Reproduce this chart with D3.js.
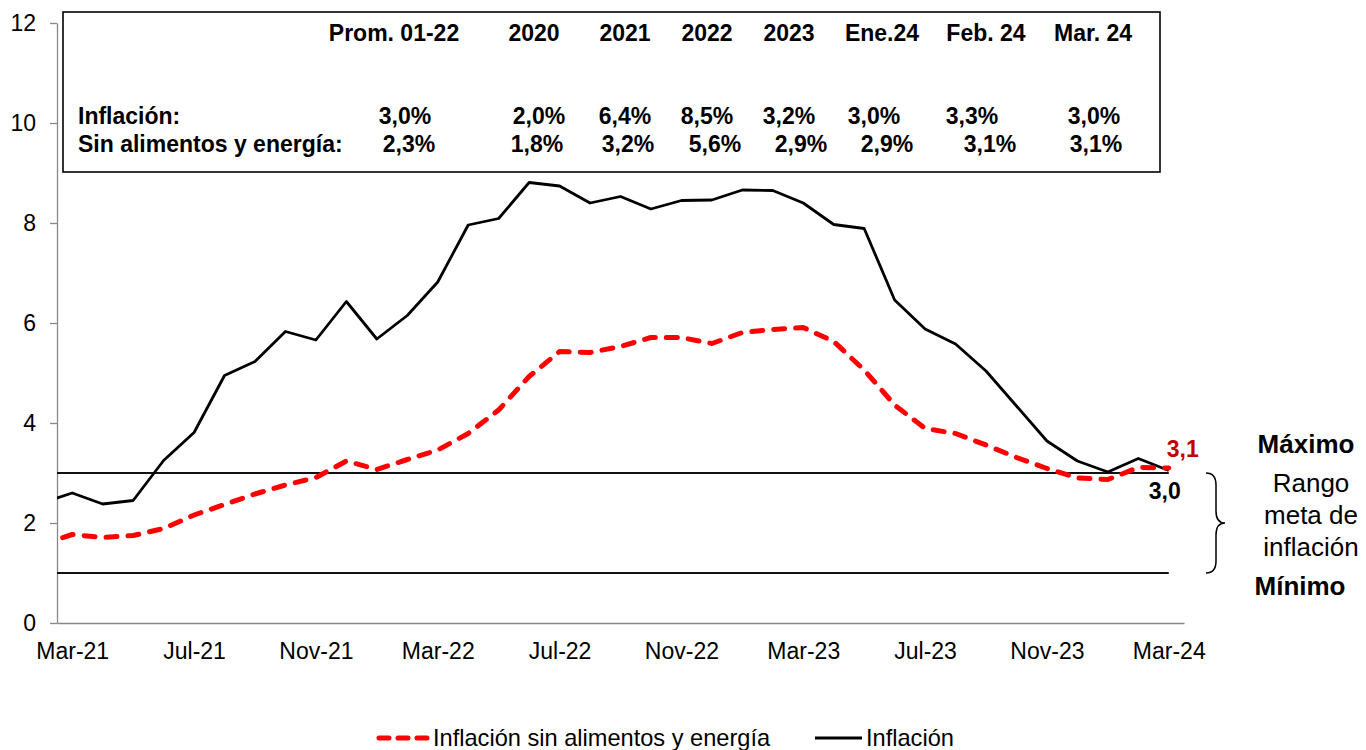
<!DOCTYPE html>
<html>
<head>
<meta charset="utf-8">
<script src="https://cdn.jsdelivr.net/npm/d3@7"></script>
<style>
  body { margin: 0; background: #fff; }
  svg { font-family: "Liberation Sans", Arial, sans-serif; }
</style>
</head>
<body>
<svg id="chart" width="1366" height="750"></svg>
<script>
// months Feb-21 .. Mar-24 (Feb-21 only feeds the clipped segment at the left edge)
const months = ["Feb-21","Mar-21","Apr-21","May-21","Jun-21","Jul-21","Aug-21","Sep-21","Oct-21","Nov-21","Dec-21",
  "Jan-22","Feb-22","Mar-22","Apr-22","May-22","Jun-22","Jul-22","Aug-22","Sep-22","Oct-22","Nov-22","Dec-22",
  "Jan-23","Feb-23","Mar-23","Apr-23","May-23","Jun-23","Jul-23","Aug-23","Sep-23","Oct-23","Nov-23","Dec-23",
  "Jan-24","Feb-24","Mar-24"];

const inflacion = [2.40,2.60,2.38,2.45,3.25,3.81,4.95,5.23,5.83,5.66,6.43,
  5.68,6.15,6.82,7.96,8.09,8.81,8.74,8.40,8.53,8.28,8.45,8.46,
  8.66,8.65,8.40,7.97,7.89,6.46,5.88,5.58,5.04,4.34,3.64,3.24,
  3.02,3.29,3.05];

const sinAlimentos = [1.57,1.77,1.71,1.75,1.89,2.16,2.37,2.58,2.76,2.91,3.24,
  3.07,3.27,3.46,3.79,4.26,4.93,5.43,5.41,5.53,5.71,5.71,5.59,
  5.81,5.87,5.91,5.63,5.06,4.36,3.89,3.79,3.56,3.31,3.09,2.90,
  2.87,3.11,3.10];

const metaMax = 3;
const metaMin = 1;

const xTickLabels = ["Mar-21","Jul-21","Nov-21","Mar-22","Jul-22","Nov-22","Mar-23","Jul-23","Nov-23","Mar-24"];
const yTicks = [0, 2, 4, 6, 8, 10, 12];

// summary table
const tableHeaders = ["Prom. 01-22","2020","2021","2022","2023","Ene.24","Feb. 24","Mar. 24"];
const tableInflacion = ["3,0%","2,0%","6,4%","8,5%","3,2%","3,0%","3,3%","3,0%"];
const tableSinAlimentos = ["2,3%","1,8%","3,2%","5,6%","2,9%","2,9%","3,1%","3,1%"];

// text placement inside the box
const headerX = [394, 534, 625, 707, 789, 882, 986, 1093];
const row1X = [405, 539, 625, 707, 789, 874, 972, 1094];
const row2X = [409, 537, 628, 715, 801, 887, 990, 1096];

const svg = d3.select("#chart");
const plotLeft = 57, plotRight = 1184, plotTop = 23, plotBottom = 623;

const x = d3.scaleLinear().domain([0.5, months.length - 0.5]).range([plotLeft, plotRight]);
const y = d3.scaleLinear().domain([0, 12]).range([plotBottom, plotTop]);

svg.append("defs").append("clipPath").attr("id", "plot")
  .append("rect").attr("x", plotLeft).attr("y", 0).attr("width", plotRight - plotLeft).attr("height", plotBottom);

// y axis
const yAxis = svg.append("g")
  .attr("transform", "translate(" + plotLeft + ",0)")
  .call(d3.axisLeft(y).tickValues(yTicks).tickSize(7).tickPadding(14).tickSizeOuter(0));
yAxis.select(".domain").attr("stroke", "#888").attr("stroke-width", 1.3);
yAxis.selectAll(".tick line").attr("stroke", "#888").attr("stroke-width", 1.3);
yAxis.attr("font-size", null).attr("font-family", null);
yAxis.selectAll("text").attr("font-size", 23).attr("fill", "#000");

// x axis
const tickIdx = xTickLabels.map(m => months.indexOf(m));
const xAxis = svg.append("g")
  .attr("transform", "translate(0," + plotBottom + ")")
  .call(d3.axisBottom(x).tickValues(tickIdx).tickFormat(i => months[i]).tickSize(0).tickPadding(20).tickSizeOuter(0));
xAxis.select(".domain").attr("stroke", "#888").attr("stroke-width", 1.3);
xAxis.attr("font-size", null).attr("font-family", null);
xAxis.selectAll("text").attr("font-size", 23).attr("fill", "#000");

const plot = svg.append("g").attr("clip-path", "url(#plot)");

// target range lines
[metaMax, metaMin].forEach(v => {
  plot.append("line")
    .attr("x1", x(0)).attr("x2", x(months.length - 1))
    .attr("y1", y(v)).attr("y2", y(v))
    .attr("stroke", "#111").attr("stroke-width", 2);
});

const line = d3.line().x((d, i) => x(i)).y(d => y(d));

plot.append("path").datum(inflacion)
  .attr("d", line).attr("fill", "none")
  .attr("stroke", "#000").attr("stroke-width", 2.8).attr("stroke-linejoin", "round");

plot.append("path").datum(sinAlimentos)
  .attr("d", line).attr("fill", "none")
  .attr("stroke", "#ff0000").attr("stroke-width", 5)
  .attr("stroke-dasharray", "11,11").attr("stroke-linecap", "round").attr("stroke-linejoin", "round");

// end labels
const last = months.length - 1;
svg.append("text")
  .attr("x", x(last) - 2).attr("y", y(sinAlimentos[last]) - 11)
  .attr("font-size", 23).attr("font-weight", "bold").attr("fill", "#c00000")
  .text(d3.format(".1f")(sinAlimentos[last]).replace(".", ","));
svg.append("text")
  .attr("x", x(last) - 4).attr("y", y(inflacion[last]) + 28)
  .attr("text-anchor", "middle")
  .attr("font-size", 23).attr("font-weight", "bold").attr("fill", "#000")
  .text(d3.format(".1f")(inflacion[last]).replace(".", ","));

// target range annotation
svg.append("text").attr("x", 1306).attr("y", y(metaMax) - 20)
  .attr("text-anchor", "middle").attr("font-size", 26).attr("font-weight", "bold").text("Máximo");
svg.append("text").attr("x", 1300).attr("y", y(metaMin) + 22)
  .attr("text-anchor", "middle").attr("font-size", 26).attr("font-weight", "bold").text("Mínimo");
["Rango", "meta de", "inflación"].forEach((t, i) => {
  svg.append("text").attr("x", 1311).attr("y", 492 + i * 32)
    .attr("text-anchor", "middle").attr("font-size", 26).text(t);
});
const bTop = y(metaMax), bBot = y(metaMin), bMid = (bTop + bBot) / 2;
svg.append("path")
  .attr("d", `M1206,${bTop} Q1216,${bTop} 1216,${bTop + 12} L1216,${bMid - 12} Q1216,${bMid} 1225,${bMid}`
    + ` Q1216,${bMid} 1216,${bMid + 12} L1216,${bBot - 12} Q1216,${bBot} 1206,${bBot}`)
  .attr("fill", "none").attr("stroke", "#000").attr("stroke-width", 1.5);

// summary table box
svg.append("rect").attr("x", 63).attr("y", 12).attr("width", 1097).attr("height", 160)
  .attr("fill", "#fff").attr("stroke", "#000").attr("stroke-width", 1.6);

const tbl = svg.append("g").attr("font-size", 23).attr("font-weight", "bold");
tbl.selectAll(".hdr").data(tableHeaders).enter().append("text")
  .attr("x", (d, i) => headerX[i]).attr("y", 41).attr("text-anchor", "middle").text(d => d);
tbl.append("text").attr("x", 78).attr("y", 124).text("Inflación:");
tbl.append("text").attr("x", 78).attr("y", 152).text("Sin alimentos y energía:");
tbl.selectAll(".r1").data(tableInflacion).enter().append("text")
  .attr("x", (d, i) => row1X[i]).attr("y", 124).attr("text-anchor", "middle").text(d => d);
tbl.selectAll(".r2").data(tableSinAlimentos).enter().append("text")
  .attr("x", (d, i) => row2X[i]).attr("y", 152).attr("text-anchor", "middle").text(d => d);

// legend
const lg = svg.append("g").attr("font-size", 23.6);
lg.append("line").attr("x1", 379).attr("x2", 428).attr("y1", 738).attr("y2", 738)
  .attr("stroke", "#ff0000").attr("stroke-width", 5).attr("stroke-dasharray", "10,9").attr("stroke-linecap", "round");
lg.append("text").attr("x", 433).attr("y", 746).text("Inflación sin alimentos y energía");
lg.append("line").attr("x1", 815).attr("x2", 862).attr("y1", 738).attr("y2", 738)
  .attr("stroke", "#000").attr("stroke-width", 2.8);
lg.append("text").attr("x", 866).attr("y", 746).text("Inflación");
</script>
</body>
</html>
